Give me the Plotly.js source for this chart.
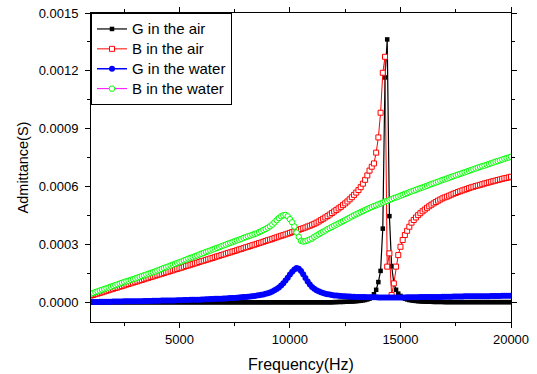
<!DOCTYPE html>
<html>
<head>
<meta charset="utf-8">
<script src="https://cdn.plot.ly/plotly-3.0.1.min.js"></script>
<style>html,body{margin:0;padding:0;background:#fff;}#chart{width:537px;height:374px;}</style>
</head>
<body>
<div id="chart"></div>
<script>
// Frequency (Hz)
const frequencyHz = [
1000,1100,1200,1300,1400,1500,1600,1700,1800,1900,
2000,2100,2200,2300,2400,2500,2600,2700,2800,2900,
3000,3100,3200,3300,3400,3500,3600,3700,3800,3900,
4000,4100,4200,4300,4400,4500,4600,4700,4800,4900,
5000,5100,5200,5300,5400,5500,5600,5700,5800,5900,
6000,6100,6200,6300,6400,6500,6600,6700,6800,6900,
7000,7100,7200,7300,7400,7500,7600,7700,7800,7900,
8000,8100,8200,8300,8400,8500,8600,8700,8800,8900,
9000,9100,9200,9300,9400,9500,9600,9700,9800,9900,
10000,10100,10200,10300,10400,10500,10600,10700,10800,10900,
11000,11100,11200,11300,11400,11500,11600,11700,11800,11900,
12000,12100,12200,12300,12400,12500,12600,12700,12800,12900,
13000,13100,13200,13300,13400,13500,13600,13700,13800,13900,
14000,14100,14200,14300,14400,14500,14600,14700,14800,14900,
15000,15100,15200,15300,15400,15500,15600,15700,15800,15900,
16000,16100,16200,16300,16400,16500,16600,16700,16800,16900,
17000,17100,17200,17300,17400,17500,17600,17700,17800,17900,
18000,18100,18200,18300,18400,18500,18600,18700,18800,18900,
19000,19100,19200,19300,19400,19500,19600,19700,19800,19900,
20000];

// Values in microsiemens (µS), converted to S below
const gAirMicroS = [
0,0,0,0,0,0,0,0,0,0,
0,0,0,0,0,0,0,0,0,0,
0,0,0,0,0,0,0,0,0,0,
0,0,0,0,0,0,0,0,0,0,
0,0,0,0,0,0,0,0,0,0,
0,0,0,0,0,0,0,0,0,0,
0,0,0,0,0,0,0,0,0,0,
0,0,0,0,0,0,0,0,0,0,
0,0,0,0,0,0,0,0,0,0,
0,0,0,0,0,0,0,0,0,0,
0,0,0,0,0,0,0,0,0,0,
1,1,2,2,2,3,3,4,4,5,
6,7,8,10,12,15,19,28,42,65,
105,163,382,1166,1363,447,188,100,65,45,
33,25,19,15,12,10,8,7,6,5,
4,4,3,3,3,2,2,2,2,2,
1,1,1,1,1,1,1,1,1,1,
1,1,1,1,1,1,1,1,1,1,
1,1,1,1,1,1,1,1,1,1,
1];

const bAirMicroS = [
35,38,42,45,49,52,56,60,63,67,
70,74,77,81,84,88,92,95,99,102,
106,109,113,116,120,124,127,131,134,138,
141,145,148,152,156,159,163,166,170,173,
177,180,184,188,191,195,198,202,205,209,
213,216,220,223,227,230,234,238,241,245,
248,252,256,259,263,266,270,274,277,281,
285,288,292,296,299,303,307,310,314,318,
322,325,329,333,337,341,345,348,352,356,
360,364,368,372,376,380,384,388,393,397,
402,407,413,419,426,433,440,447,455,463,
471,479,487,495,504,513,523,534,545,557,
569,582,597,615,635,658,683,703,720,776,
855,983,1190,1273,185,254,38,98,185,245,
288,323,349,371,392,413,427,440,452,462,
472,481,490,498,506,513,520,527,533,539,
544,548,553,558,563,567,572,576,580,584,
588,592,596,599,603,606,609,612,616,619,
622,625,628,631,634,637,640,643,645,648,
651];

const gWaterMicroS = [
2,2,2,2,3,3,3,3,3,3,
4,4,4,4,4,5,5,5,5,5,
6,6,6,6,7,7,7,7,8,8,
8,8,9,9,9,9,10,10,10,11,
11,11,12,12,12,13,13,13,14,14,
15,15,16,16,17,17,18,18,19,19,
20,20,21,22,22,23,24,25,26,27,
28,29,30,32,33,35,37,39,41,44,
47,51,56,62,69,77,87,99,113,128,
144,158,170,178,174,162,145,126,108,92,
79,70,63,57,52,48,45,42,40,38,
36,35,34,33,32,31,30,30,29,29,
28,28,27,27,27,26,26,26,26,26,
25,25,25,25,25,25,25,25,25,25,
25,25,25,26,26,26,26,26,26,27,
27,27,27,27,28,28,28,28,28,29,
29,29,29,29,30,30,30,30,30,31,
31,31,31,31,31,32,32,32,32,32,
32,33,33,33,33,33,34,34,34,34,
34];

const bWaterMicroS = [
45,49,53,57,61,65,69,73,77,81,
85,89,93,97,101,105,109,112,116,120,
124,128,132,136,140,144,148,152,156,160,
165,169,173,178,182,186,191,195,199,204,
208,212,217,221,226,230,234,239,243,248,
252,256,261,265,269,274,278,282,286,291,
295,299,304,308,312,317,321,325,329,334,
338,342,346,350,354,358,364,369,375,380,
387,394,403,414,426,437,446,451,453,446,
431,415,393,362,339,319,315,317,321,326,
331,339,346,353,360,366,372,379,385,391,
397,403,409,415,421,427,433,439,445,451,
457,462,468,473,479,484,489,494,499,503,
508,513,517,522,526,531,535,540,544,548,
553,557,562,566,571,575,579,583,588,592,
596,600,604,609,613,617,621,625,630,634,
638,642,646,650,654,658,662,666,670,674,
678,682,686,690,694,698,702,706,709,713,
717,721,725,729,732,736,740,744,748,751,
755];

const seriesNames = ['G in the air', 'B in the air', 'G in the water', 'B in the water'];
const yTickVals = [0, 0.0003, 0.0006, 0.0009, 0.0012, 0.0015];
const xTickVals = [5000, 10000, 15000, 20000];

const toSiemens = arr => arr.map(v => v * 1e-6);
const FONT = 'Liberation Sans, Arial, Helvetica, sans-serif';
const legendName = s => '<span style="font-size:15px">' + s + '</span>';

const traces = [
  { x: frequencyHz, y: toSiemens(gAirMicroS), name: legendName(seriesNames[0]), type: 'scatter', mode: 'lines+markers',
    line: { color: '#000000', width: 1.2 },
    marker: { symbol: 'square', size: 4.5, color: '#000000' } },
  { x: frequencyHz, y: toSiemens(bAirMicroS), name: legendName(seriesNames[1]), type: 'scatter', mode: 'lines+markers',
    line: { color: '#ff0000', width: 1 },
    marker: { symbol: 'square', size: 5, color: '#ffffff', line: { width: 1, color: '#ff0000' } } },
  { x: frequencyHz, y: toSiemens(gWaterMicroS), name: legendName(seriesNames[2]), type: 'scatter', mode: 'lines+markers',
    line: { color: '#0000ff', width: 1.5 },
    marker: { symbol: 'circle', size: 6, color: '#0000ff' } },
  { x: frequencyHz, y: toSiemens(bWaterMicroS), name: legendName(seriesNames[3]), type: 'scatter', mode: 'lines+markers',
    line: { color: '#ff00ff', width: 1 },
    marker: { symbol: 'circle', size: 5.5, color: '#ffffff', line: { width: 1, color: '#00ff00' } } }
];

const layout = {
  width: 537, height: 374,
  margin: { l: 91, r: 26, t: 13, b: 52, pad: 0 },
  paper_bgcolor: '#ffffff', plot_bgcolor: '#ffffff',
  font: { family: FONT, color: '#000000', size: 13 },
  showlegend: true,
  legend: {
    x: 0, y: 1, xanchor: 'left', yanchor: 'top',
    bgcolor: '#ffffff', bordercolor: '#000000', borderwidth: 1,
    font: { family: FONT, size: 13, color: '#000000' },
    tracegroupgap: 0
  },
  xaxis: {
    range: [1000, 20000], tickvals: xTickVals, tickformat: 'd',
    ticks: 'outside', ticklen: 5, tickwidth: 1, tickcolor: '#000000',
    showline: true, linecolor: '#000000', linewidth: 1, mirror: 'allticks',
    showgrid: false, zeroline: false,
    tickfont: { family: FONT, size: 13, color: '#000000' },
    minor: { dtick: 2500, tick0: 0, ticks: 'outside', ticklen: 3, tickcolor: '#000000', showgrid: false },
    title: { text: 'Frequency(Hz)', font: { family: FONT, size: 16, color: '#000000' }, standoff: 13 },
    automargin: false
  },
  yaxis: {
    range: [-0.000102, 0.0015], tickvals: yTickVals, tickformat: '.4f',
    ticks: 'outside', ticklen: 5, tickwidth: 1, tickcolor: '#000000',
    showline: true, linecolor: '#000000', linewidth: 1, mirror: 'allticks',
    showgrid: false, zeroline: false,
    tickfont: { family: FONT, size: 13, color: '#000000' },
    ticklabelstandoff: 4,
    minor: { dtick: 0.00015, tick0: 0, ticks: 'outside', ticklen: 3, tickcolor: '#000000', showgrid: false },
    title: { text: 'Admittance(S)', font: { family: FONT, size: 14.5, color: '#000000' }, standoff: 6 },
    automargin: false
  }
};

Plotly.newPlot('chart', traces, layout, { displayModeBar: false, staticPlot: true });
</script>
</body>
</html>
